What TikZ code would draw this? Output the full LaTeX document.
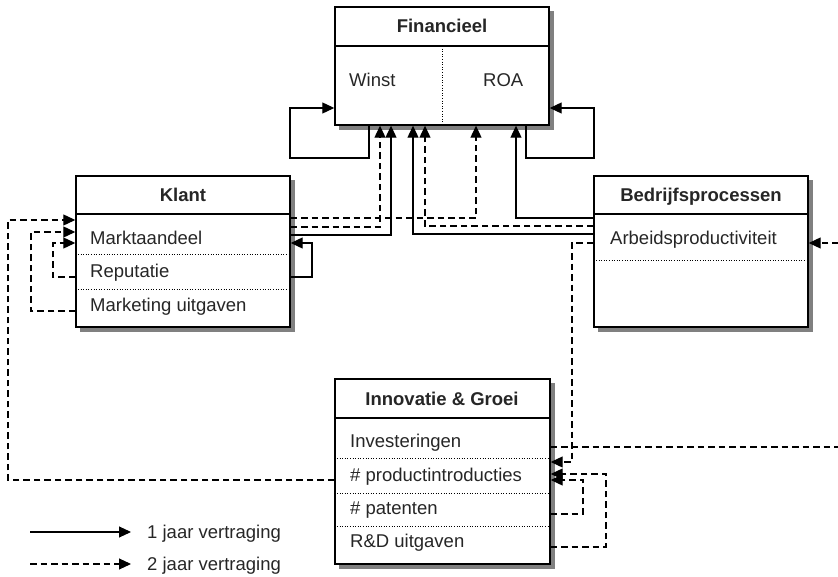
\documentclass[tikz,border=0pt]{standalone}
\usepackage{fontspec}
\setmainfont{Liberation Sans}
\usetikzlibrary{arrows.meta}

\pgfdeclarelayer{bg}
\pgfsetlayers{bg,main}

\tikzset{
  box/.style={draw, line width=1.4pt, fill=white, inner sep=0pt},
  shadowfill/.style={fill=black!50},
  title/.style={font=\fontsize{18.5}{22}\selectfont\bfseries, text=black!85, inner sep=0pt,
    text height=13.2pt, text depth=0pt},
  rowtext/.style={font=\fontsize{18.5}{22}\selectfont, text=black!85, anchor=west, inner sep=0pt,
    text height=13.2pt, text depth=0pt},
  headline/.style={line width=2.2pt},
  rowline/.style={dotted, line width=0.6pt},
  one/.style={line width=1.1pt, -{Triangle[length=12pt,width=11pt]}},
  two/.style={line width=1.1pt, dash pattern=on 6.5pt off 4pt, -{Triangle[length=12pt,width=11pt]}},
}

\begin{document}
\begin{tikzpicture}[x=1pt,y=-1pt]
\useasboundingbox (0,0) rectangle (838,577);
\clip (0,0) rectangle (838,577);

% ---- boxes ----
\node[box, minimum width=214pt, minimum height=118pt] (fin) at (442,66) {};
\node[box, minimum width=214pt, minimum height=151pt] (kl) at (183,251.5) {};
\node[box, minimum width=214pt, minimum height=151pt] (bp) at (701,251.5) {};
\node[box, minimum width=215pt, minimum height=185pt] (ig) at (442.5,471.5) {};

% ---- shadows behind the boxes ----
\begin{pgfonlayer}{bg}
  \foreach \b in {fin,kl,bp,ig}
    \fill[shadowfill] ([shift={(4.5,4.5)}]\b.north west) rectangle ([shift={(4.5,4.5)}]\b.south east);
\end{pgfonlayer}

% ---- Financieel ----
\draw[headline] (fin.west |- 0,46) -- (fin.east |- 0,46);
\draw[rowline] (442,46) -- (fin.south -| 442,0);
\node[title] (fint) at (442,26) {Financieel};
\node[rowtext] (winst) at (349,80) {Winst};
\node[rowtext] (roa) at (483,80) {ROA};

% ---- Klant ----
\draw[headline] (kl.west |- 0,214) -- (kl.east |- 0,214);
\draw[rowline] (kl.west |- 0,254) -- (kl.east |- 0,254);
\draw[rowline] (kl.west |- 0,289) -- (kl.east |- 0,289);
\node[title] (klt) at (183,195) {Klant};
\node[rowtext] (mkt) at (90,238) {Marktaandeel};
\node[rowtext] (rep) at (90,271) {Reputatie};
\node[rowtext] (mku) at (90,305) {Marketing uitgaven};

% ---- Bedrijfsprocessen ----
\draw[headline] (bp.west |- 0,214) -- (bp.east |- 0,214);
\draw[rowline] (bp.west |- 0,260) -- (bp.east |- 0,260);
\node[title] (bpt) at (701,195) {Bedrijfsprocessen};
\node[rowtext] (arb) at (610,238) {Arbeidsproductiviteit};

% ---- Innovatie & Groei ----
\draw[headline] (ig.west |- 0,418) -- (ig.east |- 0,418);
\draw[rowline] (ig.west |- 0,458) -- (ig.east |- 0,458);
\draw[rowline] (ig.west |- 0,493) -- (ig.east |- 0,493);
\draw[rowline] (ig.west |- 0,526) -- (ig.east |- 0,526);
\node[title] (igt) at (442,399) {Innovatie \& Groei};
\node[rowtext] (inv) at (350,441) {Investeringen};
\node[rowtext] (pin) at (350,475) {\# productintroducties};
\node[rowtext] (pat) at (350,508) {\# patenten};
\node[rowtext] (rd) at (350,541) {R\&D uitgaven};

% ---- connectors into Financieel ----
\draw[one] (fin.south -| 369,0) |- (290,158) |- (fin.west |- 0,108);
\draw[one] (fin.south -| 526,0) |- (594,158) |- (fin.east |- 0,108);
\draw[two] (kl.east |- 0,218) -| (fin.south -| 476,0);
\draw[two] (kl.east |- 0,227) -| (fin.south -| 380,0);
\draw[one] (kl.east |- 0,235) -| (fin.south -| 391,0);
\draw[one] (bp.west |- 0,218) -| (fin.south -| 516,0);
\draw[two] (bp.west |- 0,226) -| (fin.south -| 425,0);
\draw[one] (bp.west |- 0,234) -| (fin.south -| 413,0);

% ---- Klant loops ----
\draw[one] (kl.east |- 0,277) -| (312,243) -- (kl.east |- 0,243);
\draw[two] (ig.west |- 0,480) -| (8,220) -- (kl.west |- 0,220);
\draw[two] (kl.west |- 0,311) -| (31,232) -- (kl.west |- 0,232);
\draw[two] (kl.west |- 0,277) -| (53,243) -- (kl.west |- 0,243);

% ---- Bedrijfsprocessen / Innovatie ----
\draw[two] (bp.west |- 0,243) -| (572,462) -- (ig.east |- 0,462);
\draw[two] (ig.east |- 0,447) -- (850,447) |- (bp.east |- 0,243);
\draw[two] (ig.east |- 0,514) -| (583,480) -- (ig.east |- 0,480);
\draw[two] (ig.east |- 0,547) -| (606,474) -- (ig.east |- 0,474);

% ---- legend ----
\coordinate (l1s) at (30,532);
\coordinate (l1e) at (131,532);
\coordinate (l2s) at (30,564);
\coordinate (l2e) at (131,564);
\node[rowtext] (leg1) at (147,532) {1 jaar vertraging};
\node[rowtext] (leg2) at (147,564) {2 jaar vertraging};
\draw[one] (l1s) -- (l1e);
\draw[two] (l2s) -- (l2e);
\end{tikzpicture}
\end{document}
